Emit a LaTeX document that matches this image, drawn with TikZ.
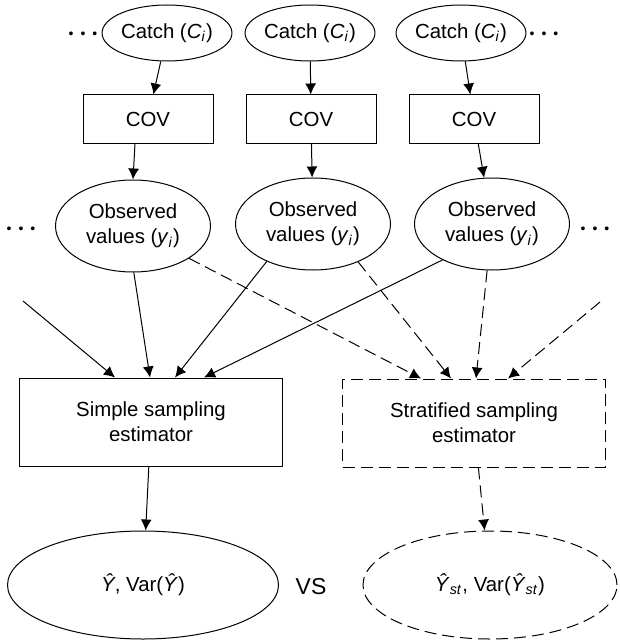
\documentclass[tikz,border=0pt]{standalone}
\usepackage{fontspec}
\setmainfont{Liberation Sans}
\usetikzlibrary{arrows.meta,shapes.geometric,calc}

\begin{document}
\begin{tikzpicture}
	[
	 x = 0.5pt, y = -0.5pt,
	 line width = 0.5pt,
	 every node/.style = {align=center,
	                      font=\fontsize{10.2}{12.5}\selectfont,
	                      inner sep = 0pt
	                     },
	 CT/.style = {draw, ellipse, minimum width=62.5pt, minimum height=28pt},
	 CV/.style = {draw, rectangle, minimum width=65pt, minimum height=24pt},
	 OB/.style = {draw, ellipse, minimum width=77.5pt, minimum height=46pt},
	 ES/.style = {draw, rectangle, minimum width=131.5pt, minimum height=44pt},
	 RS/.style = {draw, ellipse, minimum height=54pt},
	 DT/.style = {font=\fontsize{7}{8}\selectfont},
	 DS/.style = {dash pattern=on 6pt off 3pt},
	 AR/.style = {-{Latex[length=5.5pt,width=5.5pt]}}
	]

	\newcommand{\Catch}{Catch (\textit{C}\textsubscript{\textit{i}})}
	\newcommand{\Obs}{Observed\\values (\textit{y}\textsubscript{\textit{i}})}
	\newcommand{\Dots}{\textbullet\kern3.5pt\textbullet\kern3.5pt\textbullet}

	\useasboundingbox (0,0) rectangle (620,642);

	% top row
	\node [CT] (C1) at (167,33)  {\Catch};
	\node [CT] (C2) at (310,33)  {\Catch};
	\node [CT] (C3) at (461,33)  {\Catch};
	\node [DT] (D1) at (83,35)  {\Dots};
	\node [DT] (D2) at (544,35) {\Dots};

	\node [CV] (V1) at (148,119) {COV};
	\node [CV] (V2) at (311,119) {COV};
	\node [CV] (V3) at (474,119) {COV};

	\node [OB] (O1) at (133,226) {\Obs};
	\node [OB] (O2) at (313,224) {\Obs};
	\node [OB] (O3) at (492,224) {\Obs};
	\node [DT] (D3) at (21,230)  {\Dots};
	\node [DT] (D4) at (595,230) {\Dots};

	% estimators
	\node [ES]     (SS) at (151,422) {Simple sampling\\estimator};
	\node [ES, DS] (ST) at (474,423) {Stratified sampling\\estimator};

	\node [RS, minimum width=135.5pt]     (R1) at (143,585) {\textit{\^{Y}}, Var(\textit{\^{Y}})};
	\node [RS, DS, minimum width=127pt] (R2) at (490,585) {\textit{\^{Y}}\textsubscript{\textit{st}}, Var(\textit{\^{Y}}\textsubscript{\textit{st}})};
	\node [font=\fontsize{11.5}{13}\selectfont] (VS) at (311,587) {VS};

	\coordinate (inL) at (23,301);
	\coordinate (inR) at (600,302);

	\foreach \i in {1,2,3}
	  \draw [AR] (C\i) -- (V\i);
	\draw [AR] ($(V1.south)+(-13,0)$) -- (O1.north);
	\draw [AR] (V2) -- (O2);
	\draw [AR] (V3) -- (O3);

	\draw [AR] (inL)    -- ($(SS.north)+(-36,0)$);
	\draw [AR] (O1.-89) -- ($(SS.north)+(-1,0)$);
	\draw [AR] (O2.219) -- ($(SS.north)+(24,0)$);
	\draw [AR] (O3.216) -- ($(SS.north)+(53,0)$);

	\draw [AR, DS] (O1.-30) -- ($(ST.north)+(-53,0)$);
	\draw [AR, DS] (O2.-40) -- ($(ST.north)+(-23,0)$);
	\draw [AR, DS] (O3.-96) -- ($(ST.north)+(2,0)$);
	\draw [AR, DS] (inR)    -- ($(ST.north)+(34,0)$);

	\draw [AR]     (SS) -- (R1);
	\draw [AR, DS] (ST) -- (R2);
\end{tikzpicture}
\end{document}
